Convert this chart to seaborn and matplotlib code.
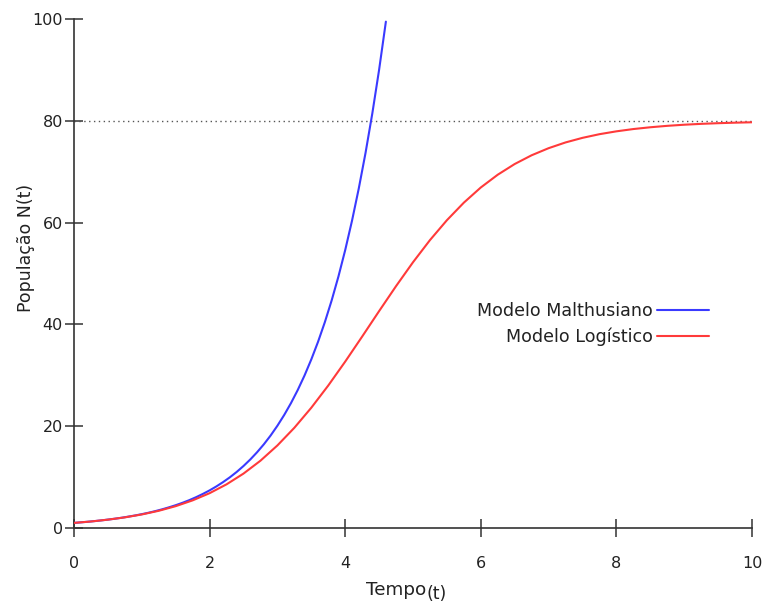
import matplotlib
matplotlib.use("Agg")
import matplotlib.pyplot as plt
import seaborn as sns
import pandas as pd

# Values
t_malthus = [0.0, 0.1, 0.2, 0.3, 0.4, 0.5, 0.6, 0.7, 0.8, 0.9, 1.0, 1.1, 1.2, 1.3,
             1.4, 1.5, 1.6, 1.7, 1.8, 1.9, 2.0, 2.1, 2.2, 2.3, 2.4, 2.5, 2.6, 2.7,
             2.8, 2.9, 3.0, 3.1, 3.2, 3.3, 3.4, 3.5, 3.6, 3.7, 3.8, 3.9, 4.0, 4.1,
             4.2, 4.3, 4.4, 4.5, 4.6]
n_malthus = [1.00, 1.11, 1.22, 1.35, 1.49, 1.65, 1.82, 2.01, 2.23, 2.46, 2.72, 3.00,
             3.32, 3.67, 4.06, 4.48, 4.95, 5.47, 6.05, 6.69, 7.39, 8.17, 9.03, 9.97,
             11.02, 12.18, 13.46, 14.88, 16.44, 18.17, 20.09, 22.20, 24.53, 27.11,
             29.96, 33.12, 36.60, 40.45, 44.70, 49.40, 54.60, 60.34, 66.69, 73.70,
             81.45, 90.02, 99.48]

t_logist = [0.0, 0.25, 0.5, 0.75, 1.0, 1.25, 1.5, 1.75, 2.0, 2.25, 2.5, 2.75, 3.0,
            3.25, 3.5, 3.75, 4.0, 4.25, 4.5, 4.75, 5.0, 5.25, 5.5, 5.75, 6.0, 6.25,
            6.5, 6.75, 7.0, 7.25, 7.5, 7.75, 8.0, 8.25, 8.5, 8.75, 9.0, 9.25, 9.5,
            9.75, 10.0]
n_logist = [1.00, 1.28, 1.64, 2.09, 2.66, 3.38, 4.29, 5.43, 6.84, 8.58, 10.69, 13.22,
            16.22, 19.69, 23.63, 27.99, 32.69, 37.61, 42.61, 47.52, 52.21, 56.56,
            60.47, 63.92, 66.90, 69.41, 71.51, 73.23, 74.62, 75.75, 76.65, 77.37,
            77.93, 78.38, 78.73, 79.01, 79.23, 79.40, 79.53, 79.63, 79.71]

capacity = 80
x_ticks = [0, 2, 4, 6, 8, 10]
y_ticks = [0, 20, 40, 60, 80, 100]
label_malthus = "Modelo Malthusiano"
label_logist = "Modelo Logístico"

df_m = pd.DataFrame({"t": t_malthus, "N": n_malthus})
df_l = pd.DataFrame({"t": t_logist, "N": n_logist})

sns.set_style("white")
plt.rcParams["font.family"] = ["DejaVu Sans"]

fig = plt.figure(figsize=(7.68, 6.05), dpi=100)
W, H = 768, 605
ax = fig.add_axes([74 / W, 1 - 528 / H, (752 - 74) / W, (528 - 19) / H])

ax.axhline(capacity, color="#555555", ls=(0, (1, 2.5)), lw=1.0, zorder=1)
sns.lineplot(data=df_m, x="t", y="N", ax=ax, color="#3a3aff", lw=1.5,
             label=label_malthus, zorder=3)
sns.lineplot(data=df_l, x="t", y="N", ax=ax, color="#ff3a3a", lw=1.5,
             label=label_logist, zorder=3)
for ln in ax.lines:
    ln.set_solid_joinstyle("round")

ax.set_xlim(0, 10)
ax.set_ylim(0, 100)
ax.set_xticks(x_ticks)
ax.set_yticks(y_ticks)
ax.set_xlabel("")
ax.set_ylabel("")

for s in ["top", "right"]:
    ax.spines[s].set_visible(False)
for s in ["left", "bottom"]:
    ax.spines[s].set_color("#333333")
    ax.spines[s].set_linewidth(1.2)

ax.tick_params(axis="x", bottom=True, direction="inout", length=13, width=1.1,
               color="#333333", pad=13.5, labelsize=11.5, labelcolor="#222222")
ax.tick_params(axis="y", left=True, direction="inout", length=13, width=1.1,
               color="#333333", pad=1.5, labelsize=11.5, labelcolor="#222222")
for tl in ax.get_xticklabels() + ax.get_yticklabels():
    tl.set_clip_on(False)

fig.text(26 / W, 1 - 248 / H, "População N(t)", rotation=90, ha="center",
         va="center", fontsize=12.5, color="#222222")
fig.text(426 / W, 1 - 595 / H, "Tempo", ha="right", va="baseline",
         fontsize=13.2, color="#222222")
fig.text(427 / W, 1 - 599 / H, "(t)", ha="left", va="baseline",
         fontsize=12.5, color="#222222")

leg = ax.legend(loc="center right", bbox_to_anchor=(709 / W, 1 - 324 / H),
                bbox_transform=fig.transFigure, frameon=False, markerfirst=False,
                handlelength=3.0, handletextpad=0.2, labelspacing=0.45,
                borderpad=0, borderaxespad=0, fontsize=12.6)
for txt in leg.get_texts():
    txt.set_color("#222222")

fig.savefig("out.png", dpi=100)
